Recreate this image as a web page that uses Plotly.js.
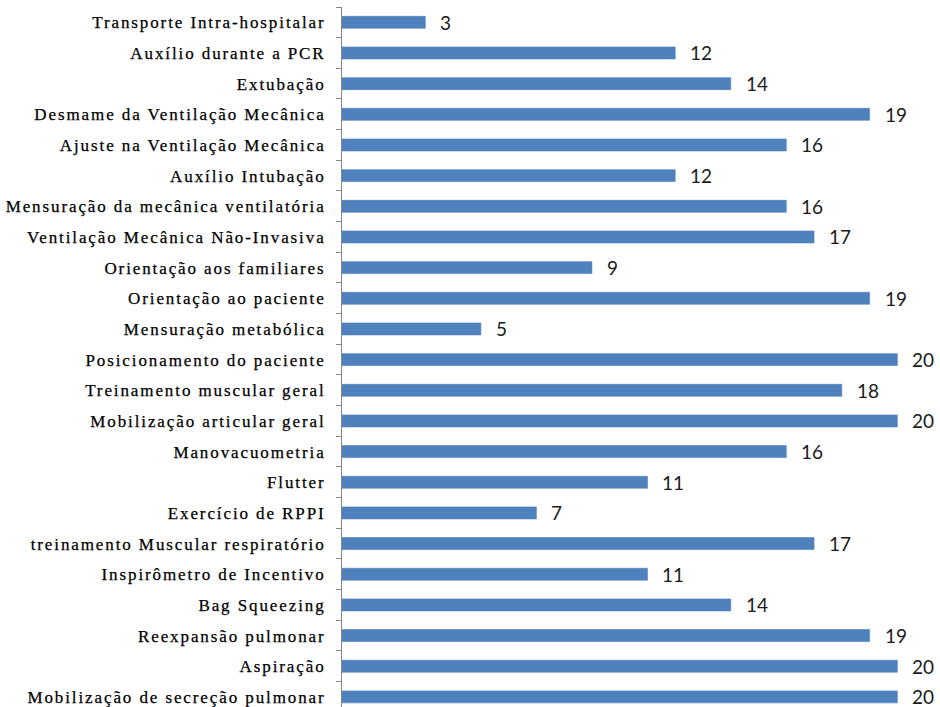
<!DOCTYPE html>
<html>
<head>
<meta charset="utf-8">
<script src="https://cdn.plot.ly/plotly-3.0.1.min.js"></script>
<style>
html,body{margin:0;padding:0;background:#fff;}
#chart{width:940px;height:707px;}
#chart .ytick text{letter-spacing:1.9px;font-family:'Liberation Serif','Times New Roman',serif !important;stroke:#000;stroke-width:0.25px;}
#chart .annotation-text{font-family:Lato,'Open Sans',sans-serif !important;}
</style>
</head>
<body>
<div id="chart"></div>
<script>
// Categories listed bottom to top
const categories = [
  "Mobilização de secreção pulmonar",
  "Aspiração",
  "Reexpansão pulmonar",
  "Bag Squeezing",
  "Inspirômetro de Incentivo",
  "treinamento Muscular respiratório",
  "Exercício de RPPI",
  "Flutter",
  "Manovacuometria",
  "Mobilização articular geral",
  "Treinamento muscular geral",
  "Posicionamento do paciente",
  "Mensuração metabólica",
  "Orientação ao paciente",
  "Orientação aos familiares",
  "Ventilação Mecânica Não-Invasiva",
  "Mensuração da mecânica ventilatória",
  "Auxílio Intubação",
  "Ajuste na Ventilação Mecânica",
  "Desmame da Ventilação Mecânica",
  "Extubação",
  "Auxílio durante a PCR",
  "Transporte Intra-hospitalar"
];
const values = [20, 20, 19, 14, 11, 17, 7, 11, 16, 20, 18, 20, 5, 19, 9, 17, 16, 12, 16, 19, 14, 12, 3];

const trace = {
  type: 'bar',
  orientation: 'h',
  x: values,
  y: categories,
  marker: {color: '#4F81BD', line: {color: '#4A7EBB', width: 0.6}},
  hoverinfo: 'none'
};

const annotations = values.map((v, i) => ({
  x: v, y: categories[i], xref: 'x', yref: 'y',
  text: String(v), showarrow: false, xanchor: 'left', yanchor: 'middle',
  xshift: 13,
  font: {family: 'Lato', size: 19, color: '#1a1a1a'}
}));

const layout = {
  width: 940, height: 707,
  margin: {l: 342, r: 1, t: 7, b: 0},
  paper_bgcolor: '#fff', plot_bgcolor: '#fff',
  showlegend: false,
  bargap: 0.61,
  xaxis: {range: [0, 21.5], visible: false, fixedrange: true},
  yaxis: {
    type: 'category',
    categoryorder: 'array', categoryarray: categories,
    range: [-0.33, 22.5],
    showline: true, linecolor: '#868686', linewidth: 1,
    ticks: 'outside', ticklen: 5, tickcolor: '#868686', tickson: 'boundaries',
    ticklabelstandoff: 12,
    tickfont: {family: 'Liberation Serif', size: 17, color: '#000'},
    showgrid: false, zeroline: false, fixedrange: true
  },
  annotations: annotations
};

Plotly.newPlot('chart', [trace], layout, {displayModeBar: false, staticPlot: true});
</script>
</body>
</html>
